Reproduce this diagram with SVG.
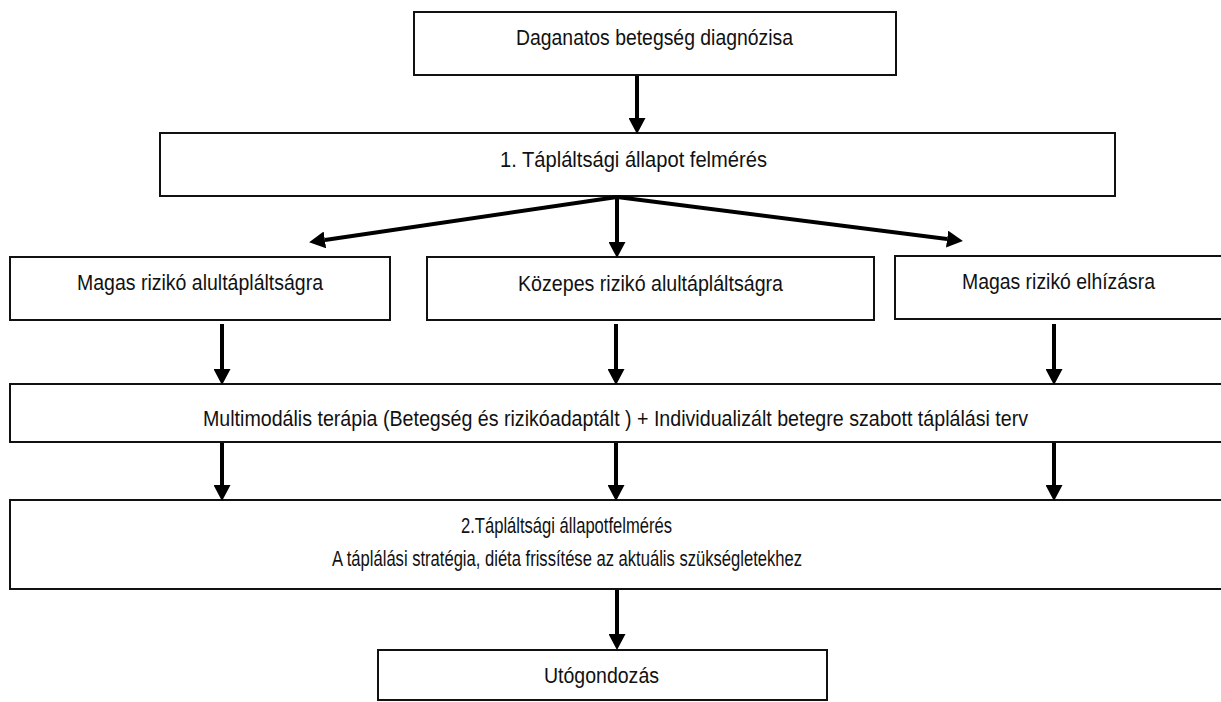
<svg xmlns="http://www.w3.org/2000/svg" width="1221" height="702" viewBox="0 0 1221 702">
<style>
rect.box{fill:#fff;stroke:#111;stroke-width:2}
text{font-family:"Liberation Sans Narrow","Liberation Sans",Arial,sans-serif;font-size:22.5px;fill:#111;text-anchor:middle}
.conn line{stroke:#000;stroke-width:4}
</style>
<defs>
<marker id="ah" markerUnits="userSpaceOnUse" markerWidth="16" markerHeight="17" viewBox="0 0 15 16" refX="0" refY="8" orient="auto">
<path d="M0,0 L15,8 L0,16 z" fill="#000"/>
</marker>
</defs>
<rect width="1221" height="702" fill="#fff"/>
<g id="n1"><rect class="box" x="414" y="12" width="482" height="63"/><text x="654.5" y="45" textLength="277" lengthAdjust="spacingAndGlyphs">Daganatos betegség diagnózisa</text></g>
<g id="n2"><rect class="box" x="160" y="133" width="955" height="63"/><text x="633.5" y="167" textLength="267" lengthAdjust="spacingAndGlyphs">1. Tápláltsági állapot felmérés</text></g>
<g id="n3"><rect class="box" x="10" y="257" width="380" height="63"/><text x="200" y="290" textLength="246" lengthAdjust="spacingAndGlyphs">Magas rizikó alultápláltságra</text></g>
<g id="n4"><rect class="box" x="427" y="257" width="447" height="63"/><text x="650.5" y="291" textLength="265" lengthAdjust="spacingAndGlyphs">Közepes rizikó alultápláltságra</text></g>
<g id="n5"><rect class="box" x="895" y="256" width="340" height="63"/><text x="1058.5" y="289" textLength="193" lengthAdjust="spacingAndGlyphs">Magas rizikó elhízásra</text></g>
<g id="n6"><rect class="box" x="10" y="384" width="1225" height="58"/><text x="615.5" y="426" textLength="825" lengthAdjust="spacingAndGlyphs">Multimodális terápia (Betegség és rizikóadaptált ) + Individualizált betegre szabott táplálási terv</text></g>
<g id="n7"><rect class="box" x="10" y="500" width="1225" height="89"/><text x="566.5" y="533" textLength="211" lengthAdjust="spacingAndGlyphs">2.Tápláltsági állapotfelmérés</text><text x="567" y="566" textLength="470" lengthAdjust="spacingAndGlyphs">A táplálási stratégia, diéta frissítése az aktuális szükségletekhez</text></g>
<g id="n8"><rect class="box" x="378" y="650" width="449" height="50"/><text x="601.5" y="683" textLength="115" lengthAdjust="spacingAndGlyphs">Utógondozás</text></g>
<g class="conn" id="connectors">
<line x1="637" y1="76" x2="637" y2="118" marker-end="url(#ah)"/>
<line x1="617" y1="197" x2="324.9" y2="239.9" marker-end="url(#ah)"/>
<line x1="617" y1="197" x2="617" y2="242" marker-end="url(#ah)"/>
<line x1="617" y1="197" x2="947.1" y2="239.1" marker-end="url(#ah)"/>
<line x1="222" y1="324" x2="222" y2="369" marker-end="url(#ah)"/>
<line x1="616" y1="324" x2="616" y2="369" marker-end="url(#ah)"/>
<line x1="1054" y1="324" x2="1054" y2="369" marker-end="url(#ah)"/>
<line x1="222" y1="443" x2="222" y2="485" marker-end="url(#ah)"/>
<line x1="616" y1="443" x2="616" y2="485" marker-end="url(#ah)"/>
<line x1="1054" y1="443" x2="1054" y2="485" marker-end="url(#ah)"/>
<line x1="617" y1="590" x2="617" y2="634" marker-end="url(#ah)"/>
</g>
</svg>
